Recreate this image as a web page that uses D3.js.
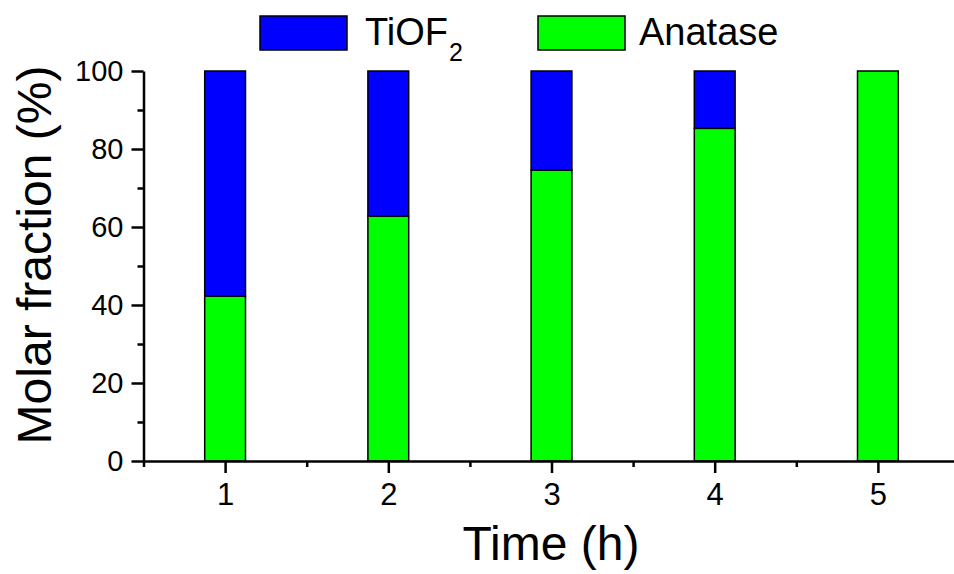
<!DOCTYPE html>
<html>
<head>
<meta charset="utf-8">
<script src="https://cdn.jsdelivr.net/npm/d3@7"></script>
<style>
  body { margin: 0; background: #fff; }
  svg { display: block; font-family: "Liberation Sans", Arial, sans-serif; }
  .axis path, .axis line { stroke: #000; stroke-width: 2.5; }
  .axis text { fill: #000; }
</style>
</head>
<body>
<svg id="chart" width="954" height="574"></svg>
<script>
// data
var times = [1, 2, 3, 4, 5];
var anatase = [42.3, 62.8, 74.6, 85.3, 100];
var tiof2 = [57.7, 37.2, 25.4, 14.7, 0];
var colors = { "TiOF2": "#0000ff", "Anatase": "#00ff00" };
var yTicks = [0, 20, 40, 60, 80, 100];

var svg = d3.select("#chart");

var x = d3.scaleLinear().domain([0.5, 5.5]).range([143.5, 959.5]);
var y = d3.scaleLinear().domain([0, 100]).range([461, 71]);

var rows = times.map(function(t, i) {
  return { time: t, Anatase: anatase[i], TiOF2: tiof2[i] };
});
// anatase sits at the bottom, TiOF2 on top
var stack = d3.stack().keys(["Anatase", "TiOF2"]);
var layers = stack(rows);

var barW = x(1.25) - x(1);

var g = svg.append("g");
layers.forEach(function(layer) {
  g.selectAll(null)
    .data(layer.filter(function(d) { return d[1] - d[0] > 0; }))
    .enter().append("rect")
    .attr("x", function(d) { return x(d.data.time) - barW / 2; })
    .attr("y", function(d) { return y(d[1]); })
    .attr("width", barW)
    .attr("height", function(d) { return y(d[0]) - y(d[1]); })
    .attr("fill", colors[layer.key])
    .attr("stroke", "#000")
    .attr("stroke-width", 1.5);
});

// minor ticks
svg.append("g")
  .attr("class", "axis")
  .attr("transform", "translate(" + x(0.5) + ",0)")
  .call(d3.axisLeft(y).tickValues(d3.range(10, 100, 20)).tickSize(6).tickFormat(""))
  .select(".domain").remove();
svg.append("g")
  .attr("class", "axis")
  .attr("transform", "translate(0," + y(0) + ")")
  .call(d3.axisBottom(x).tickValues(d3.range(0.5, 6, 1)).tickSize(6).tickFormat(""))
  .select(".domain").remove();

// major axes
var yAxis = svg.append("g")
  .attr("class", "axis")
  .attr("transform", "translate(" + x(0.5) + ",0)")
  .call(d3.axisLeft(y).tickValues(yTicks).tickSize(12).tickSizeOuter(0).tickPadding(8));
yAxis.selectAll("text").attr("font-size", 29);
yAxis.attr("font-family", null);

var xAxis = svg.append("g")
  .attr("class", "axis")
  .attr("transform", "translate(0," + y(0) + ")")
  .call(d3.axisBottom(x).tickValues(times).tickFormat(d3.format("d"))
    .tickSize(12).tickSizeOuter(0).tickPadding(10));
xAxis.selectAll("text").attr("font-size", 31);
xAxis.attr("font-family", null);

// axis titles
svg.append("text")
  .attr("x", 551).attr("y", 560)
  .attr("text-anchor", "middle")
  .attr("font-size", 48)
  .text("Time (h)");

svg.append("text")
  .attr("transform", "translate(51,255) rotate(-90)")
  .attr("text-anchor", "middle")
  .attr("font-size", 48)
  .text("Molar fraction (%)");

// legend
var legend = [
  { key: "TiOF2", x: 260, tx: 365 },
  { key: "Anatase", x: 538, tx: 639 }
];
legend.forEach(function(l) {
  svg.append("rect")
    .attr("x", l.x).attr("y", 16)
    .attr("width", 87).attr("height", 34)
    .attr("fill", colors[l.key])
    .attr("stroke", "#000").attr("stroke-width", 1.5);
  var t = svg.append("text")
    .attr("x", l.tx).attr("y", 45)
    .attr("font-size", 38);
  if (l.key === "TiOF2") {
    t.append("tspan").text("TiOF");
    t.append("tspan").attr("dy", 16).attr("dx", 1).attr("font-size", 25).text("2");
  } else {
    t.text("Anatase");
  }
});
</script>
</body>
</html>
